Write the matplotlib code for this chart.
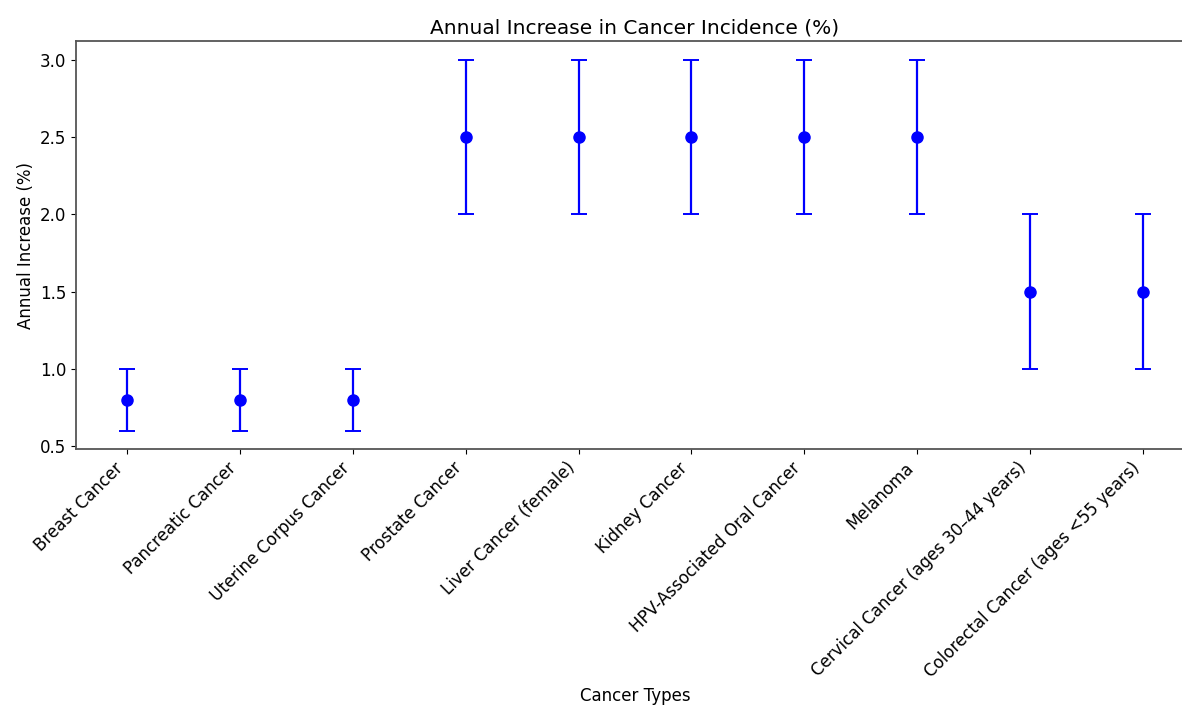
import matplotlib

matplotlib.use("Agg")
import matplotlib.pyplot as plt

cancer_types = [
    "Breast Cancer",
    "Pancreatic Cancer",
    "Uterine Corpus Cancer",
    "Prostate Cancer",
    "Liver Cancer (female)",
    "Kidney Cancer",
    "HPV-Associated Oral Cancer",
    "Melanoma",
    "Cervical Cancer (ages 30\u201344 years)",
    "Colorectal Cancer (ages <55 years)",
]
annual_increase = [0.8, 0.8, 0.8, 2.5, 2.5, 2.5, 2.5, 2.5, 1.5, 1.5]
error = [0.2, 0.2, 0.2, 0.5, 0.5, 0.5, 0.5, 0.5, 0.5, 0.5]

fig = plt.figure(figsize=(11.82, 7.09), dpi=100)
# axes run slightly past the right edge, as in the cropped original
ax = fig.add_axes([0.0645, 0.3666, 0.9455, 0.5749])
ax.errorbar(range(len(cancer_types)), annual_increase, yerr=error,
            fmt="o", color="blue", ecolor="blue", elinewidth=1.6,
            capsize=6, capthick=1.4, markersize=8)
ax.set_xticks(range(len(cancer_types)))
ax.set_xticklabels(cancer_types, rotation=45, ha="right", fontsize=12)
ax.tick_params(axis="y", labelsize=12)
for s in ax.spines.values():
    s.set_color("#555555")
    s.set_linewidth(1.3)
ax.set_title("Annual Increase in Cancer Incidence (%)", fontsize=14.5)
ax.set_xlabel("Cancer Types", fontsize=12)
ax.set_ylabel("Annual Increase (%)", fontsize=12)

fig.savefig("out.png", dpi=100)
